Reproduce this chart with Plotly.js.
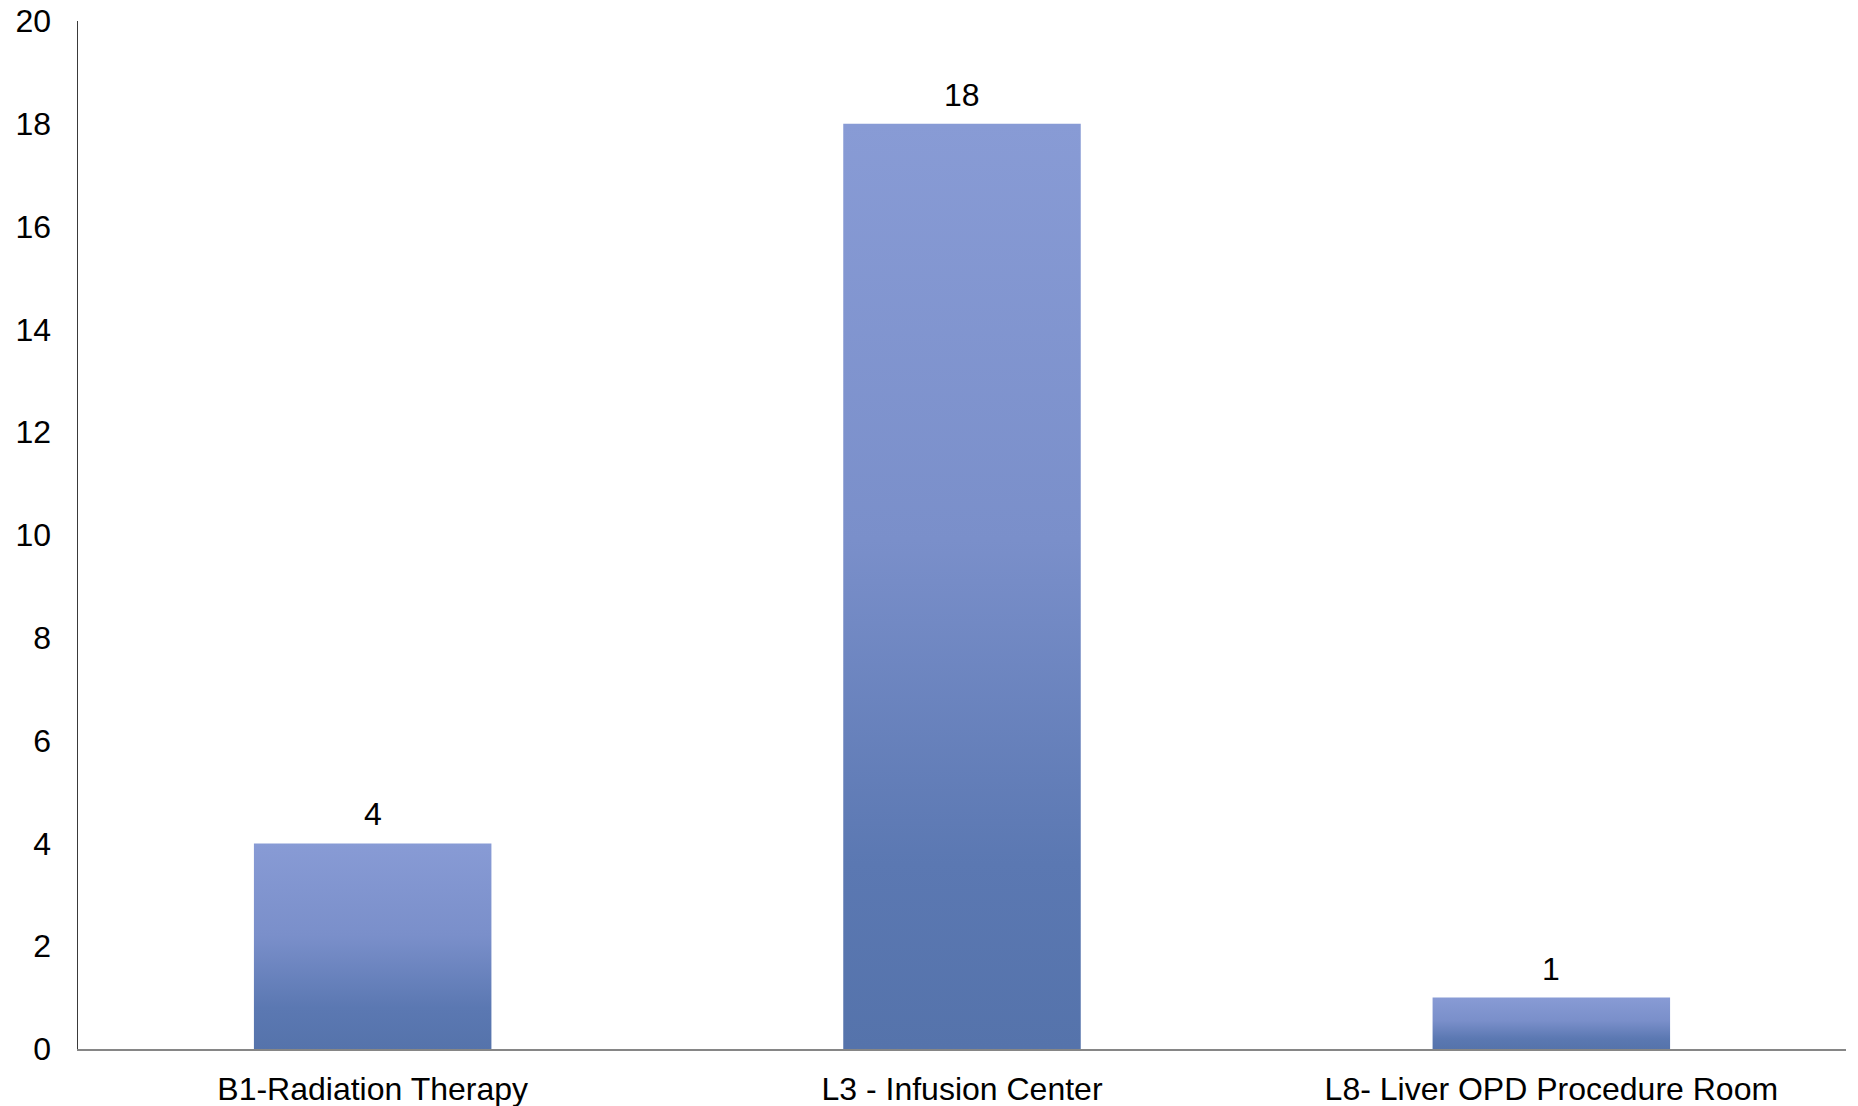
<!DOCTYPE html>
<html>
<head>
<meta charset="utf-8">
<script src="https://cdn.plot.ly/plotly-3.0.1.min.js"></script>
<style>
html,body{margin:0;padding:0;background:#fff;}
#chart{width:1858px;height:1106px;}
</style>
</head>
<body>
<div id="chart"></div>
<script>
const categories = ["B1-Radiation Therapy", "L3 - Infusion Center", "L8- Liver OPD Procedure Room"];
const values = [4, 18, 1];
const yTicks = [0, 2, 4, 6, 8, 10, 12, 14, 16, 18, 20];

const FONT = "Liberation Sans, Arial, sans-serif";
const FS = 32;

const trace = {
  type: "bar",
  x: categories,
  y: values,
  marker: { color: "#6b84c0", line: { width: 0 } },
  hoverinfo: "none"
};

const annotations = categories.map((c, i) => ({
  x: c, y: values[i], xref: "x", yref: "y",
  text: String(values[i]), showarrow: false,
  yanchor: "bottom", yshift: 9,
  font: { family: FONT, size: FS, color: "#000" }
}));

const layout = {
  width: 1858, height: 1106,
  margin: { l: 78, r: 12, t: 21, b: 57, pad: 0 },
  paper_bgcolor: "#fff", plot_bgcolor: "#fff",
  font: { family: FONT, size: FS, color: "#000" },
  bargap: 0.597,
  showlegend: false,
  xaxis: {
    type: "category",
    showline: true, linecolor: "#868686", linewidth: 2,
    showgrid: false, zeroline: false, ticks: "",
    ticklabelstandoff: 11,
    tickfont: { family: FONT, size: FS, color: "#000" }
  },
  yaxis: {
    range: [0, 20],
    tickvals: yTicks, ticktext: yTicks.map(String),
    showline: true, linecolor: "#3a3a3a", linewidth: 1.5,
    showgrid: false, zeroline: false, ticks: "",
    ticklabelstandoff: 19,
    tickfont: { family: FONT, size: FS, color: "#000" }
  },
  annotations: annotations
};

function applyGradient(gd) {
  const svg = gd.querySelector("svg.main-svg");
  if (!svg) return;
  let defs = svg.querySelector("defs");
  if (!defs) { defs = document.createElementNS("http://www.w3.org/2000/svg", "defs"); svg.insertBefore(defs, svg.firstChild); }
  if (!svg.querySelector("#barGrad")) {
    const g = document.createElementNS("http://www.w3.org/2000/svg", "linearGradient");
    g.setAttribute("id", "barGrad");
    g.setAttribute("x1", "0"); g.setAttribute("y1", "0");
    g.setAttribute("x2", "0"); g.setAttribute("y2", "1");
    [["0", "#889bd5"], ["0.45", "#7a8fca"], ["0.8", "#5b78b2"], ["1", "#5573ab"]].forEach(([o, c]) => {
      const s = document.createElementNS("http://www.w3.org/2000/svg", "stop");
      s.setAttribute("offset", o); s.setAttribute("stop-color", c);
      g.appendChild(s);
    });
    defs.appendChild(g);
  }
  gd.querySelectorAll(".barlayer .point path").forEach(p => {
    p.style.fill = "url(#barGrad)";
  });
}

Plotly.newPlot("chart", [trace], layout, { displayModeBar: false, staticPlot: true })
  .then(gd => applyGradient(gd));
</script>
</body>
</html>
